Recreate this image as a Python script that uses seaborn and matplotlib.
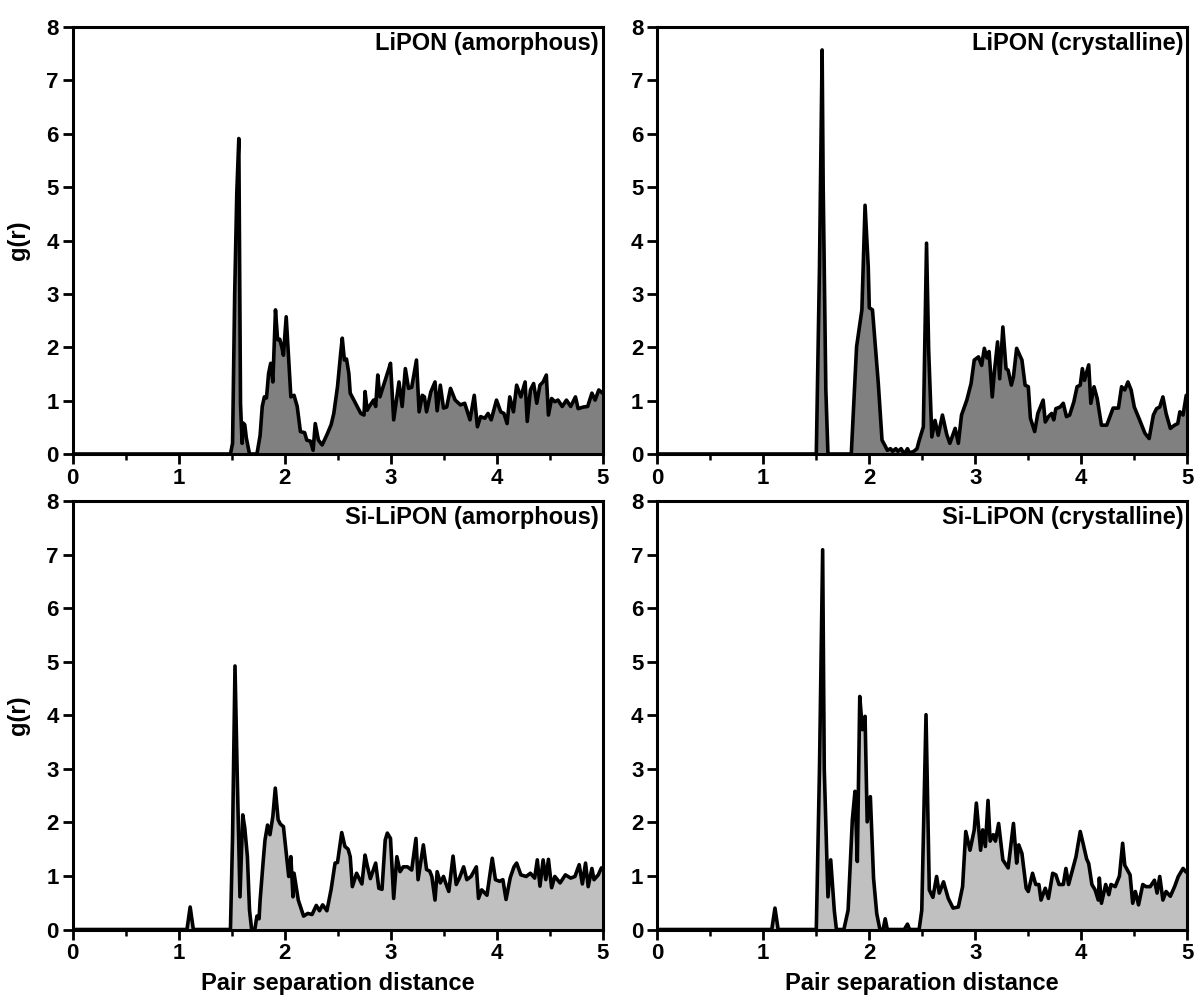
import matplotlib
matplotlib.use("Agg")
import matplotlib.pyplot as plt
from matplotlib.ticker import MultipleLocator
import seaborn as sns

# ---- data (pair distance r, g(r)) ----
r_lipon_am = [0, 1.49, 1.51, 1.53, 1.55, 1.569, 1.585, 1.60, 1.61, 1.625, 1.64, 1.67, 1.74, 1.77, 1.79, 1.81,
              1.83, 1.85, 1.87, 1.89, 1.915, 1.935, 1.955, 1.975, 1.99, 2.016, 2.04, 2.06, 2.09, 2.12, 2.15,
              2.19, 2.21, 2.245, 2.27, 2.29, 2.32, 2.355, 2.40, 2.44, 2.465, 2.50, 2.53, 2.545, 2.565, 2.585,
              2.607, 2.62, 2.67, 2.72, 2.75, 2.76, 2.78, 2.80, 2.84, 2.86, 2.88, 2.90, 2.94, 2.98, 3.0, 3.03,
              3.08, 3.11, 3.14, 3.17, 3.20, 3.245, 3.27, 3.30, 3.32, 3.34, 3.38, 3.42, 3.44, 3.47, 3.50, 3.53,
              3.566, 3.61, 3.66, 3.70, 3.75, 3.79, 3.82, 3.85, 3.89, 3.92, 3.95, 4.0, 4.04, 4.07, 4.10, 4.125,
              4.16, 4.19, 4.23, 4.27, 4.29, 4.32, 4.35, 4.38, 4.41, 4.44, 4.47, 4.49, 4.52, 4.55, 4.58, 4.62,
              4.66, 4.70, 4.745, 4.77, 4.82, 4.86, 4.90, 4.93, 4.965, 5.0]
g_lipon_am = [0, 0, 0.2, 3.0, 4.9, 5.91, 0.95, 0.2, 0.58, 0.55, 0.3, 0, 0, 0.35, 0.89, 1.07,
              1.05, 1.51, 1.70, 1.35, 2.70, 2.14, 2.15, 2.0, 1.85, 2.57, 1.76, 1.07, 1.10, 0.89, 0.42,
              0.40, 0.26, 0.24, 0.07, 0.57, 0.26, 0.17, 0.36, 0.55, 0.76, 1.26, 1.89, 2.17, 1.76, 1.78,
              1.51, 1.14, 0.95, 0.76, 0.73, 1.17, 0.82, 0.89, 1.01, 0.89, 1.48, 1.07, 1.32, 1.57, 1.70, 0.64,
              1.35, 0.89, 1.60, 1.23, 1.25, 1.76, 0.79, 1.10, 1.07, 0.79, 1.16, 1.35, 0.81, 1.29, 0.86, 0.88,
              1.23, 1.01, 0.92, 0.95, 0.64, 1.10, 0.51, 0.70, 0.67, 0.76, 0.64, 1.01, 0.79, 0.76, 0.57, 1.07,
              0.79, 1.29, 1.07, 1.35, 0.61, 1.20, 1.32, 0.95, 1.29, 1.35, 1.48, 0.73, 1.04, 0.98, 1.01, 0.89,
              1.01, 0.89, 1.07, 0.85, 0.88, 0.89, 1.14, 1.01, 1.20, 1.14]

r_lipon_cr = [0, 1.50, 1.53, 1.555, 1.565, 1.59, 1.61, 1.83, 1.88, 1.93, 1.96, 1.99, 2.0, 2.03, 2.085, 2.12,
              2.15, 2.17, 2.20, 2.22, 2.25, 2.27, 2.30, 2.33, 2.36, 2.38, 2.42, 2.45, 2.47, 2.51, 2.54, 2.56,
              2.59, 2.62, 2.65, 2.69, 2.73, 2.76, 2.81, 2.84, 2.87, 2.92, 2.96, 2.99, 3.03, 3.06, 3.085, 3.11,
              3.13, 3.16, 3.18, 3.21, 3.23, 3.26, 3.29, 3.31, 3.34, 3.36, 3.39, 3.44, 3.47, 3.50, 3.52, 3.56,
              3.59, 3.64, 3.66, 3.69, 3.72, 3.74, 3.76, 3.80, 3.83, 3.86, 3.89, 3.93, 3.96, 3.99, 4.01, 4.03,
              4.07, 4.09, 4.12, 4.15, 4.19, 4.24, 4.27, 4.30, 4.35, 4.38, 4.41, 4.44, 4.47, 4.50, 4.55, 4.60,
              4.64, 4.68, 4.71, 4.74, 4.77, 4.80, 4.84, 4.88, 4.91, 4.93, 4.96, 4.99, 5.0]
g_lipon_cr = [0, 0, 3.5, 7.57, 5.0, 1.2, 0, 0, 2.01, 2.70, 4.66, 3.51, 2.74, 2.70, 1.32, 0.26,
              0.15, 0.07, 0.10, 0.05, 0.10, 0.05, 0.10, 0.0, 0.10, 0.02, 0.05, 0.10, 0.25, 0.51, 3.95, 1.95,
              0.32, 0.63, 0.35, 0.73, 0.37, 0.20, 0.48, 0.20, 0.73, 1.01, 1.32, 1.76, 1.82, 1.66, 1.98, 1.80,
              1.92, 1.07, 1.54, 2.10, 1.41, 2.38, 1.60, 1.57, 1.29, 1.45, 1.98, 1.76, 1.29, 1.26, 0.67, 0.42,
              0.76, 1.01, 0.60, 0.70, 0.76, 0.64, 0.85, 0.88, 0.95, 0.70, 0.73, 0.98, 1.26, 1.29, 1.60, 1.38,
              1.67, 0.95, 1.26, 1.04, 0.54, 0.54, 0.70, 0.86, 0.86, 1.26, 1.20, 1.35, 1.20, 0.88, 0.64, 0.39,
              0.29, 0.73, 0.85, 0.88, 1.07, 0.76, 0.48, 0.54, 0.57, 0.79, 0.73, 1.10, 1.10]

r_si_am = [0, 1.08, 1.11, 1.14, 1.49, 1.51, 1.533, 1.555, 1.58, 1.606, 1.625, 1.65, 1.67, 1.69, 1.72, 1.74,
           1.76, 1.77, 1.80, 1.816, 1.84, 1.863, 1.89, 1.913, 1.94, 1.96, 1.99, 2.02, 2.04, 2.06, 2.08, 2.09,
           2.13, 2.18, 2.22, 2.26, 2.30, 2.33, 2.36, 2.40, 2.44, 2.477, 2.50, 2.54, 2.57, 2.60, 2.62, 2.64,
           2.68, 2.73, 2.76, 2.78, 2.81, 2.86, 2.89, 2.92, 2.95, 2.97, 3.0, 3.03, 3.06, 3.09, 3.12, 3.16,
           3.20, 3.24, 3.26, 3.31, 3.34, 3.37, 3.39, 3.42, 3.44, 3.47, 3.50, 3.52, 3.55, 3.59, 3.62, 3.65,
           3.69, 3.72, 3.76, 3.81, 3.83, 3.86, 3.91, 3.96, 3.99, 4.03, 4.06, 4.09, 4.13, 4.165, 4.19, 4.23,
           4.28, 4.32, 4.36, 4.385, 4.41, 4.44, 4.465, 4.49, 4.52, 4.55, 4.60, 4.65, 4.70, 4.74, 4.78, 4.81,
           4.84, 4.865, 4.90, 4.92, 4.96, 4.99, 5.0]
g_si_am = [0, 0, 0.42, 0, 0, 1.73, 4.92, 2.79, 0.61, 2.14, 1.90, 1.36, 0.36, 0, 0, 0.25,
           0.20, 0.55, 1.30, 1.67, 1.95, 1.77, 2.11, 2.64, 2.05, 1.97, 1.92, 1.36, 0.99, 1.36, 0.61, 1.05,
           0.55, 0.25, 0.30, 0.28, 0.45, 0.35, 0.46, 0.35, 0.75, 1.24, 1.25, 1.81, 1.55, 1.50, 1.36, 0.80,
           1.05, 0.85, 1.39, 1.20, 0.95, 1.24, 0.77, 0.75, 1.67, 1.80, 1.70, 0.58, 1.36, 1.08, 1.17, 1.17,
           1.11, 1.70, 0.93, 1.58, 1.12, 1.09, 0.99, 0.55, 1.08, 0.87, 0.99, 0.87, 0.71, 1.37, 0.84, 0.96,
           1.17, 0.93, 0.99, 1.17, 0.58, 0.74, 0.64, 1.33, 0.93, 0.90, 0.93, 0.56, 0.97, 1.17, 1.24, 1.02,
           0.99, 1.05, 0.96, 1.30, 0.81, 1.30, 0.93, 1.31, 0.78, 0.99, 0.87, 1.02, 0.96, 0.99, 1.21, 0.85,
           1.24, 0.80, 1.14, 0.93, 1.02, 1.15, 1.15]

r_si_cr = [0, 1.08, 1.11, 1.14, 1.50, 1.53, 1.56, 1.575, 1.61, 1.636, 1.67, 1.69, 1.76, 1.80, 1.84, 1.865,
           1.887, 1.91, 1.935, 1.96, 1.98, 2.01, 2.04, 2.07, 2.10, 2.13, 2.15, 2.17, 2.33, 2.36, 2.38, 2.47,
           2.495, 2.535, 2.566, 2.60, 2.635, 2.66, 2.70, 2.745, 2.79, 2.84, 2.88, 2.91, 2.95, 2.99, 3.01, 3.05,
           3.07, 3.095, 3.12, 3.14, 3.17, 3.19, 3.22, 3.26, 3.31, 3.36, 3.39, 3.41, 3.44, 3.48, 3.50, 3.54,
           3.57, 3.60, 3.62, 3.66, 3.69, 3.73, 3.76, 3.79, 3.83, 3.855, 3.88, 3.95, 3.99, 4.02, 4.05, 4.07,
           4.10, 4.13, 4.16, 4.17, 4.19, 4.23, 4.26, 4.28, 4.32, 4.36, 4.39, 4.41, 4.46, 4.485, 4.51, 4.54,
           4.58, 4.61, 4.65, 4.69, 4.715, 4.74, 4.77, 4.80, 4.84, 4.88, 4.915, 4.96, 4.99, 5.0]
g_si_cr = [0, 0, 0.40, 0, 0, 3.0, 7.09, 3.0, 0.61, 1.30, 0.35, 0, 0, 0.36, 2.05, 2.58,
           1.27, 4.35, 3.73, 3.98, 2.01, 2.48, 0.96, 0.30, 0, 0, 0.20, 0, 0, 0.10, 0, 0,
           0.36, 4.01, 0.74, 0.60, 0.99, 0.68, 0.89, 0.58, 0.40, 0.42, 0.80, 1.83, 1.48, 1.86, 2.36, 1.48,
           1.86, 1.55, 2.41, 1.65, 1.77, 1.65, 1.98, 1.30, 1.15, 1.98, 1.24, 1.58, 1.42, 0.77, 0.71, 1.05,
           0.84, 0.84, 0.55, 0.77, 0.58, 1.05, 1.02, 0.84, 0.84, 1.14, 0.84, 1.36, 1.83, 1.58, 1.32, 1.23,
           0.84, 0.74, 0.55, 0.96, 0.49, 0.84, 0.65, 0.84, 0.80, 1.00, 1.61, 1.20, 1.02, 0.49, 0.71, 0.46,
           0.84, 0.80, 0.80, 0.92, 0.68, 0.99, 0.55, 0.71, 0.62, 0.80, 0.99, 1.14, 1.07, 1.07]

titles = ["LiPON (amorphous)", "LiPON (crystalline)",
          "Si-LiPON (amorphous)", "Si-LiPON (crystalline)"]
series = [(r_lipon_am, g_lipon_am), (r_lipon_cr, g_lipon_cr),
          (r_si_am, g_si_am), (r_si_cr, g_si_cr)]
fills = ["#808080", "#808080", "#c0c0c0", "#c0c0c0"]

sns.set_style("ticks")
plt.rcParams["font.family"] = ["Liberation Sans", "DejaVu Sans"]
plt.rcParams["font.weight"] = "bold"
for key in ["text.color", "axes.labelcolor", "xtick.color", "ytick.color", "axes.edgecolor"]:
    plt.rcParams[key] = "black"

fig = plt.figure(figsize=(11.98, 10.05), dpi=100)
W, H = 1198, 1005
lefts = [72.5 / W, 657.3 / W]
width = 530 / W
rows = [(1 - 454 / H, 427 / H), (1 - 929.5 / H, 428.5 / H)]

for i, ((r, g), title, fc) in enumerate(zip(series, titles, fills)):
    row, col = divmod(i, 2)
    ax = fig.add_axes([lefts[col], rows[row][0], width, rows[row][1]])
    ax.fill_between(r, 0, g, color=fc, linewidth=0)
    sns.lineplot(x=r, y=g, ax=ax, color="black", linewidth=2.6,
                 estimator=None, sort=False)
    ax.set_xlim(0, 5)
    ax.set_ylim(0, 8)
    ax.xaxis.set_major_locator(MultipleLocator(1))
    ax.xaxis.set_minor_locator(MultipleLocator(0.5))
    ax.yaxis.set_major_locator(MultipleLocator(1))
    ax.tick_params(which="major", direction="out", length=7, width=2,
                   labelsize=16, pad=3)
    ax.tick_params(which="minor", axis="x", direction="out", length=4, width=1.8)
    for lab in ax.get_xticklabels() + ax.get_yticklabels():
        lab.set_fontweight("bold")
    for sp in ax.spines.values():
        sp.set_linewidth(2.2)
        sp.set_visible(True)
    ax.text(0.993, 0.988, title, transform=ax.transAxes, ha="right", va="top",
            fontsize=17, fontweight="bold")
    if col == 0:
        ax.set_ylabel("g(r)", fontsize=17, fontweight="bold")
        ax.yaxis.set_label_coords(-0.08, 0.5)
    else:
        ax.set_ylabel("")
    if row == 1:
        ax.set_xlabel("Pair separation distance", fontsize=17, fontweight="bold")
        ax.xaxis.set_label_coords(0.5, -0.1)
    else:
        ax.set_xlabel("")

fig.savefig("out.png", dpi=100)
